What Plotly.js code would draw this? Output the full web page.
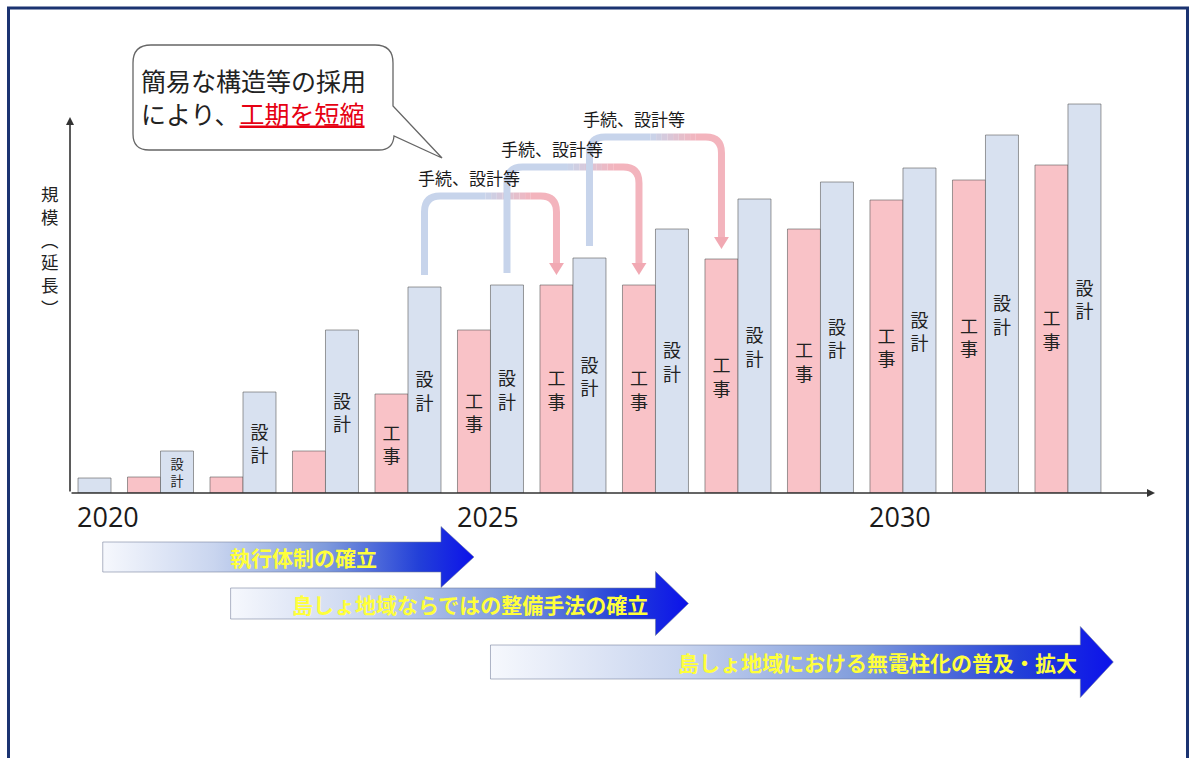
<!DOCTYPE html>
<html>
<head>
<meta charset="utf-8">
<script src="https://cdn.plot.ly/plotly-3.0.1.min.js"></script>
<style>html,body{margin:0;padding:0;background:#fff;}#chart{width:1189px;height:758px;}</style>
</head>
<body>
<div id="chart"></div>
<script>
// ---- data ----
const years = [2020, 2021, 2022, 2023, 2024, 2025, 2026, 2027, 2028, 2029, 2030, 2031, 2032];
const design = [15, 42, 101, 163, 206, 208, 235, 264, 294, 311, 325, 358, 389];          // 設計
const construction = [null, 16, 16, 42, 99, 163, 208, 208, 234, 264, 293, 313, 328];    // 工事
const designText = ['', '設<br>計', '設<br>計', '設<br>計', '設<br>計', '設<br>計', '設<br>計', '設<br>計', '設<br>計', '設<br>計', '設<br>計', '設<br>計', '設<br>計'];
const constructionText = ['', '', '', '', '工<br>事', '工<br>事', '工<br>事', '工<br>事', '工<br>事', '工<br>事', '工<br>事', '工<br>事', '工<br>事'];
const tickYears = [2020, 2025, 2030];
const tickText = ['2020', '2025', '2030'];
const bracketFrom = [2024, 2025, 2026];
const bracketLag = 2;
const bracketLabel = '手続、設計等';
const phaseLabels = ['執行体制の確立', '島しょ地域ならではの整備手法の確立', '島しょ地域における無電柱化の普及・拡大'];
const phaseStart = [2020.3, 2021.85, 2025.0];
const phaseEnd = [2024.8, 2027.4, 2032.55];
const yTitle = '規<br>模<br>︵<br>延<br>長<br>︶';
const calloutText = '簡易な構造等の採用<br>により、<span style="color:#e60012;text-decoration:underline">工期を短縮</span>';

// ---- layout helpers (page pixels -> paper) ----
const W = 1189, H = 758;
const PX = x => x / W;
const PY = y => 1 - y / H;
const FONT = 'Noto Sans CJK JP, Noto Sans, sans-serif';

const traces = [];
traces.push({
  type: 'bar', name: '工事', x: years, y: construction,
  text: constructionText, textposition: 'inside', insidetextanchor: 'middle', textangle: 0,
  textfont: {family: FONT, size: 18, color: '#222'},
  marker: {color: '#f9c2c7', line: {color: 'rgba(90,90,90,0.6)', width: 1}},
  hoverinfo: 'x+y+name'
});
traces.push({
  type: 'bar', name: '設計', x: years, y: design,
  text: designText, textposition: 'inside', insidetextanchor: 'middle', textangle: 0,
  textfont: {family: FONT, size: 18, color: '#222'},
  marker: {color: '#d8e1f0', line: {color: 'rgba(90,90,90,0.6)', width: 1}},
  hoverinfo: 'x+y+name'
});

// phase arrows (gradient block arrows), x in years, y in page pixels (yaxis2)
const rowMid = [557, 603.5, 662];
const bodyHalf = [15, 15.5, 17];
const headHalf = [30.5, 32, 35.5];
const headLen = 0.4;
phaseLabels.forEach((lab, k) => {
  const xs = phaseStart[k], xt = phaseEnd[k], xb = xt - headLen;
  const m = rowMid[k], b = bodyHalf[k], h = headHalf[k];
  traces.push({
    type: 'scatter', mode: 'lines', xaxis: 'x', yaxis: 'y2',
    x: [xs, xb, xb, xt, xb, xb, xs, xs],
    y: [m - b, m - b, m - h, m, m + h, m + b, m + b, m - b],
    fill: 'toself',
    fillgradient: {type: 'horizontal', colorscale: [[0, '#f6f8fd'], [0.3, '#c9d5ef'], [0.6, '#7f9bdc'], [0.85, '#2340d8'], [1, '#0c12ea']]},
    line: {color: 'rgba(110,120,150,0.55)', width: 1},
    hoverinfo: 'skip', showlegend: false
  });
});

// ---- shapes ----
const shapes = [];
const blue = [199, 212, 235], pink = [243, 180, 189];
const mix = (t) => 'rgb(' + blue.map((c, i) => Math.round(c + (pink[i] - c) * t)).join(',') + ')';
const annotations = [];
bracketFrom.forEach((yr) => {
  const i = years.indexOf(yr), j = i + bracketLag;
  const xL = yr + 0.2, xR = years[j] - 0.2;
  const yS = design[i] + 12, L = design[j] + 62, yE = construction[j] + 10;
  const rx = 0.19, ry = 16;
  const h0 = xL + rx, h1 = xR - rx, span = h1 - h0;
  const xa = h0 + 0.45 * span, xb = h0 + 0.9 * span;
  shapes.push({type: 'path', xref: 'x', yref: 'y', layer: 'above',
    path: `M ${xL},${yS} L ${xL},${L - ry} Q ${xL},${L} ${h0},${L} L ${xa},${L}`,
    line: {color: mix(0), width: 7}});
  const n = 8;
  for (let s = 0; s < n; s++) {
    const a = xa + (xb - xa) * s / n, c = xa + (xb - xa) * (s + 1) / n;
    shapes.push({type: 'path', xref: 'x', yref: 'y', layer: 'above',
      path: `M ${a},${L} L ${c},${L}`, line: {color: mix((s + 0.5) / n), width: 7}});
  }
  shapes.push({type: 'path', xref: 'x', yref: 'y', layer: 'above',
    path: `M ${xb},${L} L ${h1},${L} Q ${xR},${L} ${xR},${L - ry} L ${xR},${yE + 11}`,
    line: {color: mix(1), width: 7}});
  shapes.push({type: 'path', xref: 'x', yref: 'y', layer: 'above',
    path: `M ${xR - 0.09},${yE + 12} L ${xR + 0.09},${yE + 12} L ${xR},${yE} Z`,
    fillcolor: '#f1a9b3', line: {width: 0}});
  annotations.push({xref: 'x', yref: 'y', x: xL - 0.1, y: L + 4, xanchor: 'left', yanchor: 'bottom',
    text: bracketLabel, showarrow: false, font: {family: FONT, size: 17, color: '#1a1a1a'}});
});

// callout bubble
const P = (x, y) => `${PX(x)},${PY(y)}`;
shapes.push({type: 'path', xref: 'paper', yref: 'paper', layer: 'above',
  path: `M ${P(151, 45)} L ${P(375, 45)} Q ${P(393, 45)} ${P(393, 63)} L ${P(393, 106)} L ${P(442, 158)} L ${P(394, 136)} Q ${P(393, 150)} ${P(379, 150)} L ${P(149, 150)} Q ${P(133, 150)} ${P(133, 134)} L ${P(133, 63)} Q ${P(133, 45)} ${P(151, 45)} Z`,
  fillcolor: '#ffffff', line: {color: '#666', width: 1.3}});

// frame
shapes.push({type: 'line', xref: 'paper', yref: 'paper', x0: PX(7), x1: PX(1189), y0: PY(8), y1: PY(8), line: {color: '#1b3371', width: 3}});
shapes.push({type: 'line', xref: 'paper', yref: 'paper', x0: PX(8.5), x1: PX(8.5), y0: PY(7), y1: PY(758), line: {color: '#1b3371', width: 3}});
shapes.push({type: 'line', xref: 'paper', yref: 'paper', x0: PX(1187.5), x1: PX(1187.5), y0: PY(7), y1: PY(758), line: {color: '#1b3371', width: 3}});

// axes arrows
annotations.push({xref: 'paper', yref: 'paper', x: PX(1155), y: PY(493), ax: -1085, ay: 0, axref: 'pixel', ayref: 'pixel',
  showarrow: true, arrowhead: 2, arrowsize: 1, arrowwidth: 1.6, arrowcolor: '#333', text: ''});
annotations.push({xref: 'paper', yref: 'paper', x: PX(70), y: PY(117), ax: 0, ay: 376, axref: 'pixel', ayref: 'pixel',
  showarrow: true, arrowhead: 2, arrowsize: 1, arrowwidth: 1.6, arrowcolor: '#333', text: ''});

// year labels under the axis
const tickShift = [30, -2, -3];
tickYears.forEach((yr, k) => {
  annotations.push({xref: 'x', yref: 'paper', x: yr, y: PY(516), xshift: tickShift[k], xanchor: 'center', yanchor: 'middle',
    text: tickText[k], showarrow: false, font: {family: 'Open Sans, sans-serif', size: 27, color: '#1a1a1a'}});
});

// y axis title (vertical, stacked)
annotations.push({xref: 'paper', yref: 'paper', x: PX(50), y: PY(250), xanchor: 'center', yanchor: 'middle',
  text: yTitle, showarrow: false, font: {family: FONT, size: 17.5, color: '#222'}});

// callout text
annotations.push({xref: 'paper', yref: 'paper', x: PX(139), y: PY(96), xanchor: 'left', yanchor: 'middle', align: 'left',
  text: calloutText, showarrow: false, font: {family: FONT, size: 25, color: '#222'}});

// phase labels
const labelCx = [303, 470, 877];
phaseLabels.forEach((lab, k) => {
  annotations.push({xref: 'paper', yref: 'paper', x: PX(labelCx[k]), y: PY(rowMid[k]), xanchor: 'center', yanchor: 'middle',
    text: lab, showarrow: false, font: {family: FONT, size: 21, color: '#ffff3a', weight: 700}});
});

const layout = {
  width: W, height: H,
  margin: {l: 0, r: 0, t: 0, b: 0},
  paper_bgcolor: '#ffffff', plot_bgcolor: 'rgba(0,0,0,0)',
  showlegend: false,
  barmode: 'group', bargap: 0.2, bargroupgap: 0,
  font: {family: FONT},
  xaxis: {domain: [70 / W, 1155 / W], range: [2019.903, 2033.055], tickvals: tickYears, ticktext: tickText,
    showticklabels: false, showgrid: false, zeroline: false, showline: false, ticks: '', fixedrange: true},
  yaxis: {domain: [1 - 493 / H, 1 - 40 / H], range: [0, 453], visible: false, fixedrange: true},
  yaxis2: {domain: [0, 1], range: [H, 0], anchor: 'x', visible: false, fixedrange: true},
  shapes: shapes,
  annotations: annotations
};

Plotly.newPlot('chart', traces, layout, {displayModeBar: false, staticPlot: true});
</script>
</body>
</html>
